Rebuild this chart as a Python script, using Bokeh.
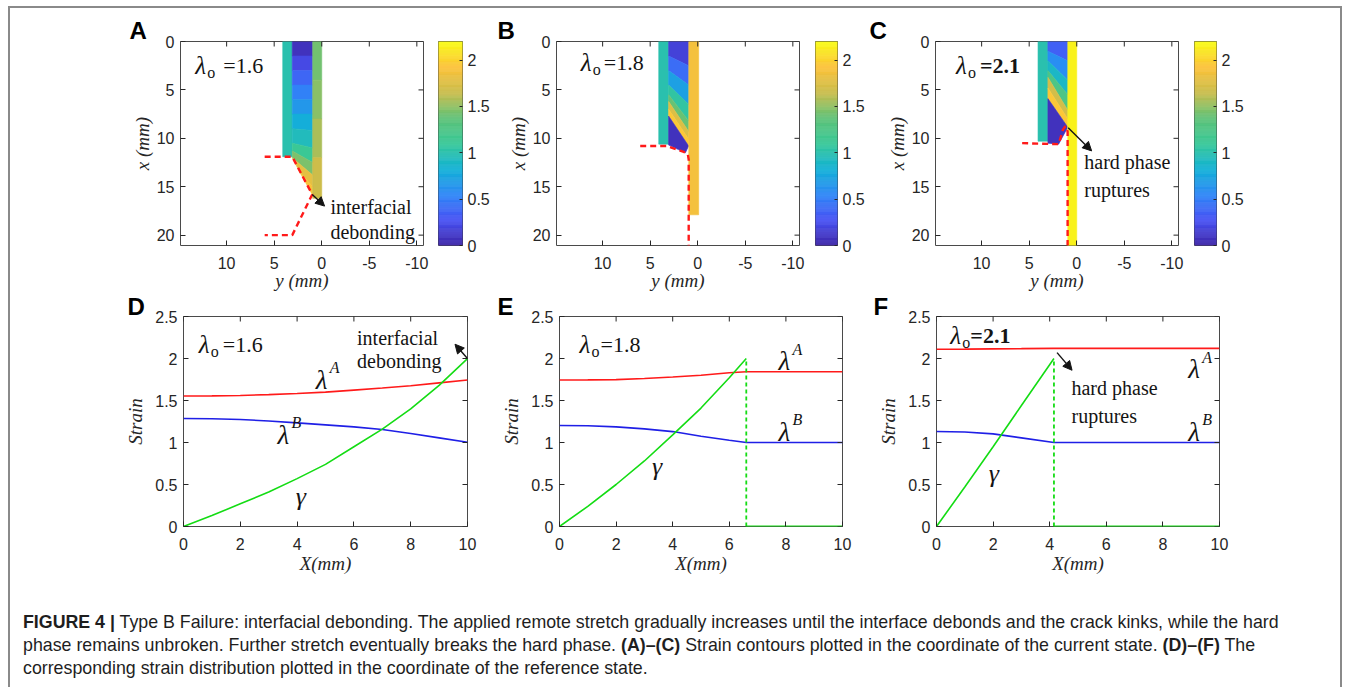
import numpy as np
from bokeh.plotting import figure
from bokeh.models import (Range1d, FixedTicker, Arrow, NormalHead, Div,
                          ColumnDataSource, LinearColorMapper, LinearAxis, NumeralTickFormatter)
from bokeh.layouts import row, column
from bokeh.embed import file_html
from bokeh.resources import INLINE
from bokeh.core.properties import value

# ---------------- data: bottom panels (strain vs X) ----------------
D_X = [0, 1, 2, 3, 4, 5, 6, 7, 8, 9, 10]
D_LAM_A = [1.553, 1.555, 1.560, 1.570, 1.584, 1.600, 1.624, 1.648, 1.676, 1.710, 1.744]
D_LAM_B = [1.286, 1.283, 1.274, 1.256, 1.234, 1.210, 1.186, 1.155, 1.107, 1.055, 1.003]
D_GAMMA = [0.0, 0.13, 0.27, 0.41, 0.57, 0.74, 0.95, 1.16, 1.40, 1.68, 2.0]

E_X = [0, 1, 2, 3, 4, 5, 6, 6.6, 10]
E_LAM_A = [1.744, 1.745, 1.748, 1.762, 1.780, 1.800, 1.830, 1.843, 1.843]
E_LAM_B = [1.202, 1.200, 1.186, 1.162, 1.130, 1.075, 1.027, 1.000, 1.000]
E_GAMMA_X = [0, 1, 2, 3, 4, 5, 6, 6.6]
E_GAMMA = [0.0, 0.24, 0.50, 0.78, 1.09, 1.41, 1.77, 2.0]
E_BREAK = 6.6

F_X = [0, 1, 2, 3, 4.15, 10]
F_LAM_A = [2.110, 2.112, 2.115, 2.117, 2.120, 2.120]
F_LAM_B = [1.131, 1.125, 1.103, 1.055, 1.000, 1.000]
F_GAMMA_X = [0, 1, 2, 3, 4.15]
F_GAMMA = [0.0, 0.47, 0.95, 1.44, 2.0]
F_BREAK = 4.15
GAMMA_PEAK = 2.0

# ---------------- data: top panels (strain contour strips) ----------------
# each strip = row edges: x at left side, y at left side, x at right side, y at right side; one value per row
A_L = dict(XL=[0, 11.9], YL=[4.1, 4.1], XR=[0, 11.9], YR=[3.1, 3.1], V=[1.0])
A_M = dict(XL=[0, 1.5, 3, 4.5, 6, 7.5, 9, 10.5, 11.3, 12, 13.5, 15.8],
           YL=[3.1, 3.1, 3.1, 3.1, 3.1, 3.1, 3.1, 3.1, 3.1, 3.1, 2.31, 1.0],
           XR=[0, 1.5, 3, 4.5, 6, 7.5, 9.2, 11, 12.5, 13.8, 15, 16.0],
           YR=[0.95] * 12,
           V=[0.08, 0.22, 0.38, 0.52, 0.66, 0.80, 0.94, 1.12, 1.45, 1.80, 1.90])
A_R = dict(XL=[0, 4, 8, 12, 16.2], YL=[0.95] * 5, XR=[0, 4, 8, 12, 16.2], YR=[0.0] * 5,
           V=[1.42, 1.48, 1.57, 1.67])

B_L = dict(XL=[0, 10.6], YL=[4.1, 4.1], XR=[0, 10.6], YR=[3.06, 3.06], V=[1.0])
B_M = dict(XL=[0, 1.5, 3, 4.5, 5.5, 6.2, 7.0, 7.7, 10.7],
           YL=[3.06] * 9,
           XR=[0, 2.5, 4.5, 6.5, 8.2, 9.3, 10.1, 10.8, 11.5],
           YR=[0.95] * 8 + [1.3],
           V=[0.18, 0.42, 0.72, 1.05, 1.40, 1.75, 1.95, 0.08])
B_R = dict(XL=[0, 17.9], YL=[0.94, 0.94], XR=[0, 17.9], YR=[-0.1, -0.1], V=[1.88])

C_L = dict(XL=[0, 10.3], YL=[4.07, 4.07], XR=[0, 10.3], YR=[3.03, 3.03], V=[1.0])
C_M = dict(XL=[0, 1, 2, 3, 3.7, 4.8, 5.9, 10.5],
           YL=[3.03] * 8,
           XR=[0, 2, 4, 5.5, 7.1, 8.0, 8.85, 10.6],
           YR=[0.94] * 7 + [1.9],
           V=[0.35, 0.60, 0.90, 1.25, 1.70, 1.95, 0.08])
C_R = dict(XL=[0, 21.1], YL=[0.94, 0.94], XR=[0, 21.1], YR=[0.0, 0.0], V=[2.15])

# crack paths (red dashed)
A_CRACK_Y = [6.0, 3.1, 1.0, 3.1, 6.0]; A_CRACK_X = [11.9, 11.9, 15.8, 20.0, 20.0]
B_CRACK_Y = [6.05, 3.23, 1.48, 1.05, 0.95, 0.95]; B_CRACK_X = [10.8, 10.8, 11.4, 11.6, 12.2, 21.1]
C_CRACK_Y = [5.74, 1.9, 1.45, 1.2, 0.96, 0.96]; C_CRACK_X = [10.5, 10.6, 9.1, 8.75, 9.3, 21.1]

TOP_XTICKS = [10, 5, 0, -5, -10]
TOP_YTICKS = [0, 5, 10, 15, 20]
BOT_XTICKS = [0, 2, 4, 6, 8, 10]
BOT_YTICKS = [0, 0.5, 1, 1.5, 2, 2.5]
CB_TICKS = [0, 0.5, 1, 1.5, 2]
CB_MAX = 2.2

# ---------------- style ----------------
SERIF = "Liberation Serif"
SANS = "Liberation Sans"
TXT = "#141414"
AX = "#262626"
OUT = "#4a4a4a"
RED = "#ff1a1a"
BLUE = "#1f1fe6"
GREEN = "#14dc14"
PARULA_ANCHORS = ["#3e26a8", "#4852f4", "#2e87f7", "#12b1d6", "#37c897",
                  "#5fc278", "#c9bd4c", "#fcc23a", "#f9fb15"]


def build_palette(anchors, n=256):
    rgb = np.array([[int(h[i:i + 2], 16) for i in (1, 3, 5)] for h in anchors], float)
    t = np.linspace(0, 1, len(anchors))
    out = []
    for s in np.linspace(0, 1, n):
        c = [np.interp(s, t, rgb[:, k]) for k in range(3)]
        out.append("#%02x%02x%02x" % tuple(int(round(v)) for v in c))
    return out


PAL = build_palette(PARULA_ANCHORS)
MAPPER = LinearColorMapper(palette=PAL, low=0, high=CB_MAX)


def axis_common(ax, fmt="0.[0]"):
    ax.major_tick_in = 5
    ax.major_tick_out = 0
    ax.minor_tick_in = 0
    ax.minor_tick_out = 0
    ax.axis_line_color = None
    ax.major_tick_line_color = AX
    ax.major_label_text_font = SANS
    ax.major_label_text_font_size = "16px"
    ax.major_label_text_color = AX
    ax.formatter = NumeralTickFormatter(format=fmt)
    ax.axis_label_text_font = SERIF
    ax.axis_label_text_font_style = "italic"
    ax.axis_label_text_font_size = "19px"
    ax.axis_label_text_color = AX


def mirror_ticks(p, xticks, yticks, x_edge, y_edge):
    # inward tick marks on the top and right edges (half of each dash is clipped by the frame)
    p.scatter(x=xticks, y=[y_edge] * len(xticks), marker="dash", angle=np.pi / 2, size=10,
              line_color=AX, line_width=1)
    p.scatter(x=[x_edge] * len(yticks), y=yticks, marker="dash", size=10,
              line_color=AX, line_width=1)


def base_fig(fw, fh, xr, yr, bl, br, bt, bb, letter=None, letter_off=0, letter_standoff=0):
    p = figure(frame_width=fw, frame_height=fh, x_range=xr, y_range=yr,
               output_backend="svg", toolbar_location=None,
               min_border_left=bl, min_border_right=br, min_border_top=bt, min_border_bottom=bb,
               title=letter)
    p.grid.visible = False
    p.outline_line_color = OUT
    p.outline_line_width = 1
    if letter:
        p.title.text_font = SANS
        p.title.text_font_size = "24px"
        p.title.text_font_style = "bold"
        p.title.text_color = "#000000"
        p.title.align = "left"
        p.title.offset = letter_off
        p.title.standoff = letter_standoff
    return p


def txt(p, x, y, s, size="20px", style="normal", xo=0, yo=0, align="left"):
    p.text(x=[x], y=[y], text=[s], x_offset=xo, y_offset=yo,
           text_font=value(SERIF), text_font_style=style, text_font_size=size,
           text_baseline="middle", text_align=align, text_color=TXT)


def lam_o(p, x, y, rest, eq_off, bold=False):
    txt(p, x, y, "λ", size="25px", style="italic")
    txt(p, x, y, "o", size="16px", xo=12, yo=7)
    txt(p, x, y, rest, size="22px", style="bold" if bold else "normal", xo=eq_off)


def lam_sup(p, x, y, sup):
    txt(p, x, y, "λ", size="27px", style="italic")
    txt(p, x, y, sup, size="16px", style="italic", xo=14, yo=-12)


def strip(p, s):
    XL, YL, XR, YR, V = s["XL"], s["YL"], s["XR"], s["YR"], s["V"]
    xs, ys = [], []
    for i in range(len(V)):
        xs.append([YL[i], YR[i], YR[i + 1], YL[i + 1]])
        ys.append([XL[i], XR[i], XR[i + 1], XL[i + 1]])
    src = ColumnDataSource(dict(xs=xs, ys=ys, v=V))
    p.patches("xs", "ys", source=src,
              fill_color={"field": "v", "transform": MAPPER},
              line_color={"field": "v", "transform": MAPPER}, line_width=0.6)


def arrow(p, x0, y0, x1, y1):
    p.add_layout(Arrow(end=NormalHead(size=9, fill_color=TXT, line_color=TXT),
                       x_start=x0, y_start=y0, x_end=x1, y_end=y1,
                       line_color=TXT, line_width=1.4))


# ---------------- top panels ----------------
TOP_FH, TOP_BT, TOP_BB = 204, 33, 48
TOP_XR = (14.85, -10.7)
TOP_YR = (21.07, 0)


def top_panel(letter, letter_off, bl, br, strips, crack_y, crack_x):
    p = base_fig(243, TOP_FH, Range1d(*TOP_XR), Range1d(*TOP_YR), bl, br, TOP_BT, TOP_BB,
                 letter, letter_off, -4)
    p.xaxis.ticker = FixedTicker(ticks=TOP_XTICKS)
    p.yaxis.ticker = FixedTicker(ticks=TOP_YTICKS)
    axis_common(p.xaxis[0], "0")
    axis_common(p.yaxis[0], "0")
    p.xaxis.axis_label = "y (mm)"
    p.yaxis.axis_label = "x (mm)"
    p.xaxis.major_label_standoff = 11
    p.yaxis.major_label_standoff = 6
    p.xaxis.axis_label_standoff = -2
    p.yaxis.axis_label_standoff = 1
    for s in strips:
        strip(p, s)
    p.line(crack_y, crack_x, line_color=RED, line_width=2.4, line_dash="6 4")
    mirror_ticks(p, TOP_XTICKS, TOP_YTICKS, TOP_XR[1], TOP_YR[1])
    return p


def colorbar_fig(fw, bl, br):
    p = base_fig(fw, TOP_FH, Range1d(0, 1), Range1d(0, CB_MAX), bl, br, TOP_BT, TOP_BB)
    p.xaxis.visible = False
    p.yaxis.visible = False
    lv = np.linspace(0, CB_MAX, 221)
    src = ColumnDataSource(dict(b=lv[:-1], t=lv[1:], v=(lv[:-1] + lv[1:]) / 2))
    p.quad(left=0, right=1, bottom="b", top="t", source=src,
           fill_color={"field": "v", "transform": MAPPER},
           line_color={"field": "v", "transform": MAPPER}, line_width=0.5)
    ax = LinearAxis(ticker=FixedTicker(ticks=CB_TICKS))
    axis_common(ax)
    ax.major_tick_in = 3
    ax.major_label_standoff = 5
    p.add_layout(ax, "right")
    return p


pA = top_panel("A", -51, 170, 13, [A_L, A_M, A_R], A_CRACK_Y, A_CRACK_X)
lam_o(pA, 13.3, 2.48, "=1.6", 28)
arrow(pA, 1.0, 15.8, -0.3, 17.0)
txt(pA, -0.92, 17.1, "interfacial")
txt(pA, -0.92, 19.7, "debonding")

pB = top_panel("B", -59, 64, 14, [B_L, B_M, B_R], B_CRACK_Y, B_CRACK_X)
lam_o(pB, 12.3, 2.2, "=1.8", 23)

pC = top_panel("C", -66, 68, 14, [C_L, C_M, C_R], C_CRACK_Y, C_CRACK_X)
lam_o(pC, 12.7, 2.48, "=2.1", 24, bold=True)
arrow(pC, 0.9, 8.9, -1.57, 11.3)
txt(pC, -0.79, 12.47, "hard phase")
txt(pC, -0.79, 15.32, "ruptures")

cbA = colorbar_fig(24, 2, 30)
cbB = colorbar_fig(22, 2, 28)
cbC = colorbar_fig(22, 2, 40)

# ---------------- bottom panels ----------------
BOT_FH, BOT_BT, BOT_BB = 210, 21, 55


def bottom_panel(letter, letter_off, fw, bl, br):
    p = base_fig(fw, BOT_FH, Range1d(0, 10), Range1d(0, 2.5), bl, br, BOT_BT, BOT_BB,
                 letter, letter_off, -6)
    p.xaxis.ticker = FixedTicker(ticks=BOT_XTICKS)
    p.yaxis.ticker = FixedTicker(ticks=BOT_YTICKS)
    axis_common(p.xaxis[0])
    axis_common(p.yaxis[0])
    p.xaxis.axis_label = "X(mm)"
    p.yaxis.axis_label = "Strain"
    p.xaxis.major_label_standoff = 11
    p.yaxis.major_label_standoff = 6
    p.xaxis.axis_label_standoff = 0
    p.yaxis.axis_label_standoff = 6
    return p


pD = bottom_panel("D", -56, 284, 173, 20)
pD.line(D_X, D_LAM_A, line_color=RED, line_width=1.6)
pD.line(D_X, D_LAM_B, line_color=BLUE, line_width=1.6)
pD.line(D_X, D_GAMMA, line_color=GREEN, line_width=1.6)
lam_o(pD, 0.54, 2.17, "=1.6", 24)
txt(pD, 6.11, 2.25, "interfacial")
txt(pD, 6.11, 1.97, "debonding")
arrow(pD, 10.0, 2.0, 9.56, 2.17)
lam_sup(pD, 4.66, 1.75, "A")
lam_sup(pD, 3.31, 1.09, "B")
txt(pD, 3.95, 0.36, "γ", size="26px", style="italic")
mirror_ticks(pD, BOT_XTICKS, BOT_YTICKS, 10, 2.5)

pE = bottom_panel("E", -62, 283, 72, 22)
pE.line(E_X, E_LAM_A, line_color=RED, line_width=1.6)
pE.line(E_X, E_LAM_B, line_color=BLUE, line_width=1.6)
pE.line(E_GAMMA_X, E_GAMMA, line_color=GREEN, line_width=1.6)
pE.line([E_BREAK, E_BREAK], [0, GAMMA_PEAK], line_color=GREEN, line_width=1.8, line_dash="4 3")
pE.line([E_BREAK, 10], [0, 0], line_color=GREEN, line_width=2.2)
lam_o(pE, 0.71, 2.17, "=1.8", 21)
lam_sup(pE, 7.74, 1.97, "A")
lam_sup(pE, 7.74, 1.13, "B")
txt(pE, 3.27, 0.72, "γ", size="26px", style="italic")
mirror_ticks(pE, BOT_XTICKS, BOT_YTICKS, 10, 2.5)

pF = bottom_panel("F", -63, 283, 72, 40)
pF.line(F_X, F_LAM_A, line_color=RED, line_width=1.6)
pF.line(F_X, F_LAM_B, line_color=BLUE, line_width=1.6)
pF.line(F_GAMMA_X, F_GAMMA, line_color=GREEN, line_width=1.6)
pF.line([F_BREAK, F_BREAK], [0, GAMMA_PEAK], line_color=GREEN, line_width=1.8, line_dash="4 3")
pF.line([F_BREAK, 10], [0, 0], line_color=GREEN, line_width=2.2)
lam_o(pF, 0.49, 2.27, "=2.1", 20, bold=True)
arrow(pF, 4.26, 2.07, 4.79, 1.86)
txt(pF, 4.77, 1.65, "hard phase")
txt(pF, 4.77, 1.32, "ruptures")
lam_sup(pF, 8.9, 1.87, "A")
lam_sup(pF, 8.9, 1.13, "B")
txt(pF, 1.85, 0.63, "γ", size="26px", style="italic")
mirror_ticks(pF, BOT_XTICKS, BOT_YTICKS, 10, 2.5)

# ---------------- caption ----------------
CAPTION = ('<div style="font-family:\'Liberation Sans\',Arial,sans-serif;font-size:17.8px;line-height:23px;'
           'color:#1e1e1e;padding:25px 0 0 8px;white-space:nowrap;">'
           '<b>FIGURE 4 |</b> Type B Failure: interfacial debonding. The applied remote stretch gradually '
           'increases until the interface debonds and the crack kinks, while the hard<br>'
           'phase remains unbroken. Further stretch eventually breaks the hard phase. <b>(A)–(C)</b> Strain '
           'contours plotted in the coordinate of the current state. <b>(D)–(F)</b> The<br>'
           'corresponding strain distribution plotted in the coordinate of the reference state.</div>')
cap = Div(text=CAPTION, width=1320, height=96)

top_row = row(pA, cbA, pB, cbB, pC, cbC, spacing=0)
bot_row = row(pD, pE, pF, spacing=0)
layout = column(top_row, bot_row, cap, spacing=0,
                styles={"margin-left": "8px", "margin-top": "6px",
                        "border-top": "2px solid #8a8a8a", "border-left": "2px solid #8a8a8a",
                        "border-right": "2px solid #8a8a8a", "width": "1334px"})

open("out.html", "w").write(file_html(layout, INLINE))
